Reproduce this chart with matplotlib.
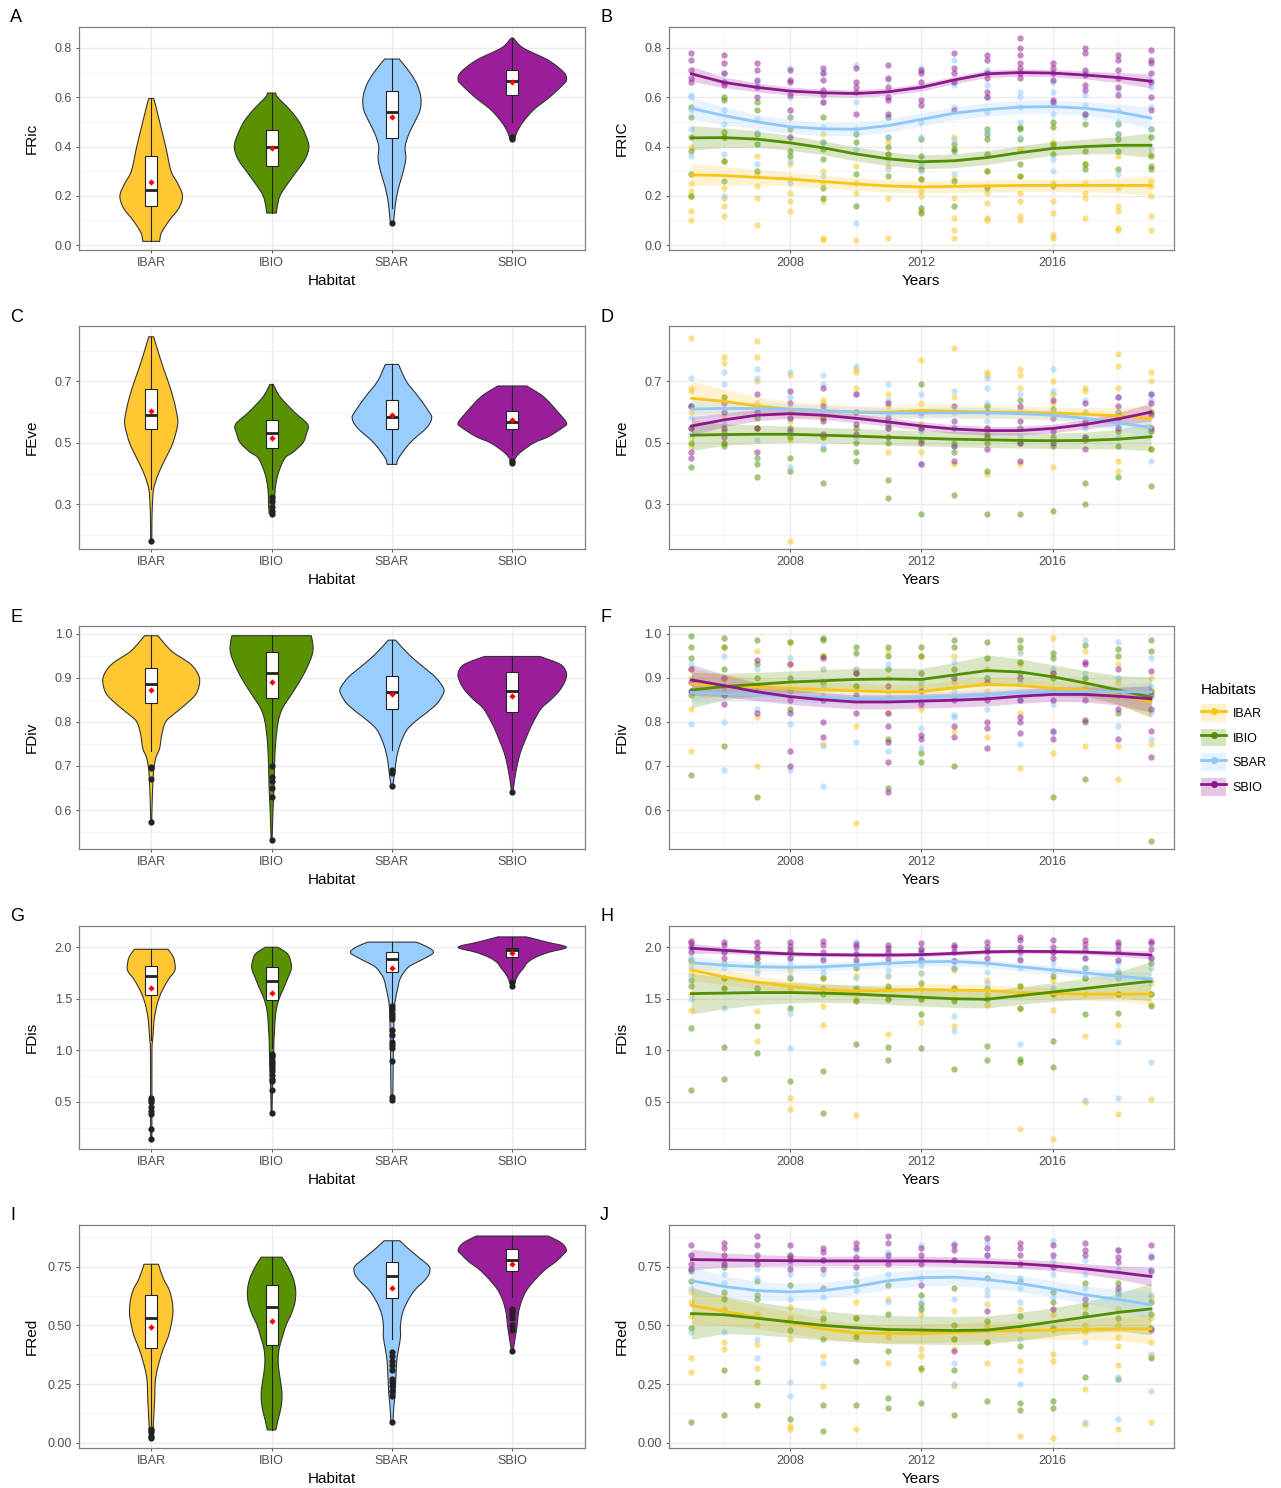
import numpy as np
import matplotlib
matplotlib.use("Agg")
import matplotlib.pyplot as plt
from matplotlib.path import Path
from matplotlib.patches import PathPatch, Rectangle, Patch
from matplotlib.lines import Line2D

plt.rcParams["font.family"] = ["Liberation Sans", "DejaVu Sans"]

habitats = ["IBAR", "IBIO", "SBAR", "SBIO"]
years = list(range(2005, 2020))
fill_cols = ["#FFC833", "#5A9100", "#99CCFF", "#9A1E9A"]
line_cols = ["#F5C518", "#4F8F00", "#8EC8FA", "#8E178E"]

########################### violin data (left column) ##############################
# each shape: (y knots, half width in category units)

# FRic
fric_shape_ibar = ([0.015, 0.05, 0.10, 0.15, 0.20, 0.25, 0.30, 0.40, 0.50, 0.57, 0.595],
                   [0.07, 0.085, 0.15, 0.23, 0.26, 0.22, 0.165, 0.12, 0.07, 0.035, 0.02])
fric_shape_ibio = ([0.13, 0.15, 0.20, 0.25, 0.30, 0.35, 0.40, 0.45, 0.50, 0.55, 0.60, 0.617],
                   [0.04, 0.045, 0.07, 0.135, 0.21, 0.28, 0.31, 0.28, 0.23, 0.15, 0.05, 0.035])
fric_shape_sbar = ([0.09, 0.10, 0.15, 0.20, 0.25, 0.30, 0.35, 0.40, 0.45, 0.50, 0.55, 0.60, 0.65, 0.70, 0.755],
                   [0.01, 0.015, 0.025, 0.04, 0.065, 0.095, 0.115, 0.11, 0.14, 0.19, 0.235, 0.24, 0.21, 0.15, 0.06])
fric_shape_sbio = ([0.43, 0.46, 0.50, 0.55, 0.60, 0.65, 0.67, 0.70, 0.75, 0.80, 0.84],
                   [0.02, 0.04, 0.09, 0.18, 0.31, 0.42, 0.45, 0.43, 0.30, 0.09, 0.01])
fric_q1 = [0.16, 0.32, 0.435, 0.61]
fric_med = [0.225, 0.40, 0.54, 0.665]
fric_q3 = [0.36, 0.465, 0.625, 0.71]
fric_mean = [0.255, 0.392, 0.52, 0.66]
fric_wlo = [0.015, 0.13, 0.15, 0.50]
fric_whi = [0.595, 0.617, 0.755, 0.84]
fric_out = [[], [], [0.09], [0.44, 0.43]]

# FEve
feve_shape_ibar = ([0.18, 0.25, 0.30, 0.35, 0.40, 0.45, 0.50, 0.56, 0.60, 0.65, 0.70, 0.75, 0.80, 0.845],
                   [0.005, 0.006, 0.01, 0.02, 0.06, 0.12, 0.18, 0.22, 0.21, 0.18, 0.14, 0.095, 0.055, 0.02])
feve_shape_ibio = ([0.27, 0.30, 0.35, 0.40, 0.45, 0.47, 0.50, 0.53, 0.56, 0.60, 0.65, 0.69],
                   [0.02, 0.025, 0.03, 0.055, 0.11, 0.18, 0.26, 0.29, 0.30, 0.19, 0.07, 0.015])
feve_shape_sbar = ([0.43, 0.45, 0.50, 0.55, 0.58, 0.60, 0.65, 0.70, 0.755],
                   [0.04, 0.055, 0.15, 0.29, 0.33, 0.31, 0.22, 0.12, 0.055])
feve_shape_sbio = ([0.435, 0.45, 0.47, 0.50, 0.52, 0.55, 0.565, 0.60, 0.65, 0.685],
                   [0.015, 0.025, 0.07, 0.18, 0.30, 0.42, 0.45, 0.38, 0.26, 0.12])
feve_q1 = [0.545, 0.483, 0.545, 0.545]
feve_med = [0.59, 0.533, 0.585, 0.568]
feve_q3 = [0.675, 0.575, 0.64, 0.605]
feve_mean = [0.605, 0.517, 0.592, 0.574]
feve_wlo = [0.35, 0.35, 0.43, 0.46]
feve_whi = [0.845, 0.69, 0.755, 0.685]
feve_out = [[0.18], [0.27, 0.28, 0.29, 0.31, 0.325], [], [0.44, 0.435]]

# FDiv
fdiv_shape_ibar = ([0.573, 0.60, 0.67, 0.70, 0.72, 0.74, 0.77, 0.80, 0.82, 0.85, 0.87, 0.90, 0.93, 0.96, 0.995],
                   [0.005, 0.006, 0.015, 0.025, 0.04, 0.07, 0.087, 0.12, 0.2, 0.33, 0.385, 0.40, 0.33, 0.17, 0.055])
fdiv_shape_ibio = ([0.533, 0.55, 0.60, 0.65, 0.70, 0.75, 0.80, 0.83, 0.86, 0.89, 0.92, 0.95, 0.97, 0.995],
                   [0.004, 0.006, 0.012, 0.02, 0.025, 0.033, 0.055, 0.09, 0.16, 0.23, 0.29, 0.335, 0.345, 0.33])
fdiv_shape_sbar = ([0.655, 0.67, 0.69, 0.72, 0.75, 0.78, 0.80, 0.82, 0.84, 0.86, 0.875, 0.90, 0.92, 0.95, 0.985],
                   [0.008, 0.015, 0.025, 0.04, 0.07, 0.12, 0.19, 0.285, 0.37, 0.42, 0.43, 0.365, 0.28, 0.15, 0.03])
fdiv_shape_sbio = ([0.642, 0.65, 0.67, 0.70, 0.73, 0.76, 0.78, 0.80, 0.83, 0.85, 0.87, 0.89, 0.91, 0.93, 0.948],
                   [0.005, 0.01, 0.02, 0.04, 0.067, 0.11, 0.14, 0.175, 0.24, 0.32, 0.39, 0.435, 0.45, 0.40, 0.23])
fdiv_q1 = [0.843, 0.855, 0.828, 0.823]
fdiv_med = [0.885, 0.91, 0.868, 0.87]
fdiv_q3 = [0.922, 0.958, 0.903, 0.912]
fdiv_mean = [0.872, 0.891, 0.862, 0.858]
fdiv_wlo = [0.733, 0.706, 0.737, 0.69]
fdiv_whi = [0.995, 0.995, 0.985, 0.948]
fdiv_out = [[0.573, 0.67, 0.695, 0.698], [0.533, 0.63, 0.65, 0.665, 0.675, 0.70],
            [0.655, 0.685, 0.69], [0.642]]

# FDis
fdis_shape_ibar = ([0.14, 0.5, 1.0, 1.1, 1.2, 1.3, 1.4, 1.5, 1.6, 1.7, 1.75, 1.8, 1.9, 1.98],
                   [0.005, 0.006, 0.006, 0.012, 0.018, 0.025, 0.04, 0.063, 0.1, 0.15, 0.185, 0.2, 0.185, 0.14])
fdis_shape_ibio = ([0.39, 0.5, 0.7, 0.8, 0.9, 1.0, 1.1, 1.2, 1.3, 1.4, 1.5, 1.6, 1.7, 1.8, 1.9, 1.95, 2.0],
                   [0.004, 0.005, 0.01, 0.012, 0.015, 0.018, 0.02, 0.025, 0.03, 0.04, 0.063, 0.1, 0.135, 0.165,
                    0.15, 0.12, 0.05])
fdis_shape_sbar = ([0.52, 0.6, 0.8, 1.0, 1.2, 1.4, 1.5, 1.6, 1.7, 1.8, 1.85, 1.9, 1.95, 2.0, 2.05],
                   [0.006, 0.008, 0.01, 0.012, 0.015, 0.02, 0.03, 0.048, 0.07, 0.13, 0.2, 0.285, 0.345, 0.30, 0.2])
fdis_shape_sbio = ([1.62, 1.65, 1.7, 1.75, 1.8, 1.85, 1.9, 1.95, 2.0, 2.05, 2.1],
                   [0.01, 0.02, 0.035, 0.06, 0.095, 0.125, 0.19, 0.30, 0.45, 0.285, 0.12])
fdis_q1 = [1.535, 1.49, 1.76, 1.905]
fdis_med = [1.725, 1.675, 1.89, 1.975]
fdis_q3 = [1.82, 1.805, 1.95, 1.99]
fdis_mean = [1.60, 1.56, 1.80, 1.945]
fdis_wlo = [1.10, 1.02, 1.46, 1.70]
fdis_whi = [1.98, 2.0, 2.05, 2.10]
fdis_out = [[0.14, 0.24, 0.38, 0.41, 0.45, 0.50, 0.52, 0.54],
            [0.39, 0.61, 0.70, 0.72, 0.76, 0.80, 0.83, 0.86, 0.88, 0.90, 0.93, 0.95, 0.96],
            [0.52, 0.55, 0.90, 1.02, 1.05, 1.08, 1.15, 1.20, 1.30, 1.33, 1.36, 1.40, 1.43],
            [1.62, 1.66]]

# FRed
fred_shape_ibar = ([0.02, 0.05, 0.10, 0.15, 0.20, 0.25, 0.30, 0.35, 0.40, 0.45, 0.50, 0.55, 0.60, 0.65, 0.70, 0.76],
                   [0.015, 0.015, 0.02, 0.025, 0.03, 0.032, 0.045, 0.07, 0.10, 0.14, 0.165, 0.18, 0.175, 0.15,
                    0.10, 0.06])
fred_shape_ibio = ([0.055, 0.10, 0.15, 0.20, 0.25, 0.30, 0.35, 0.40, 0.45, 0.50, 0.55, 0.60, 0.65, 0.70, 0.75, 0.79],
                   [0.035, 0.055, 0.078, 0.087, 0.078, 0.063, 0.055, 0.063, 0.09, 0.12, 0.165, 0.195, 0.20, 0.18,
                    0.135, 0.087])
fred_shape_sbar = ([0.09, 0.10, 0.15, 0.20, 0.25, 0.30, 0.35, 0.40, 0.45, 0.50, 0.55, 0.60, 0.65, 0.69, 0.72, 0.75,
                    0.78, 0.82, 0.86],
                   [0.008, 0.01, 0.015, 0.025, 0.03, 0.035, 0.04, 0.055, 0.071, 0.071, 0.087, 0.127, 0.19, 0.27,
                    0.31, 0.31, 0.245, 0.15, 0.065])
fred_shape_sbio = ([0.39, 0.40, 0.45, 0.50, 0.55, 0.60, 0.65, 0.70, 0.74, 0.77, 0.80, 0.82, 0.85, 0.88],
                   [0.008, 0.01, 0.025, 0.04, 0.05, 0.075, 0.12, 0.20, 0.28, 0.36, 0.42, 0.45, 0.41, 0.30])
fred_q1 = [0.405, 0.415, 0.615, 0.73]
fred_med = [0.53, 0.58, 0.71, 0.78]
fred_q3 = [0.63, 0.67, 0.77, 0.825]
fred_mean = [0.495, 0.52, 0.66, 0.76]
fred_wlo = [0.075, 0.055, 0.44, 0.62]
fred_whi = [0.76, 0.79, 0.86, 0.88]
fred_out = [[0.02, 0.03, 0.045, 0.055, 0.06], [],
            [0.09, 0.20, 0.22, 0.24, 0.26, 0.27, 0.31, 0.33, 0.35, 0.37, 0.385],
            [0.39, 0.48, 0.50, 0.53, 0.55, 0.56, 0.57]]

########################### yearly data (right column) ##############################

# FRIC
fric_pts_ibar = [[0.40, 0.25, 0.22, 0.20, 0.14, 0.10], [0.44, 0.34, 0.23, 0.19, 0.16, 0.12],
                 [0.36, 0.29, 0.24, 0.19, 0.08], [0.33, 0.27, 0.21, 0.18, 0.14],
                 [0.45, 0.30, 0.25, 0.18, 0.03, 0.02], [0.32, 0.25, 0.21, 0.02],
                 [0.42, 0.37, 0.32, 0.19, 0.03], [0.31, 0.27, 0.22, 0.20, 0.14],
                 [0.44, 0.27, 0.19, 0.11, 0.06, 0.03], [0.30, 0.24, 0.21, 0.17, 0.11, 0.10],
                 [0.39, 0.28, 0.21, 0.18, 0.12, 0.10], [0.42, 0.40, 0.25, 0.18, 0.13, 0.04, 0.03],
                 [0.33, 0.25, 0.21, 0.19, 0.11], [0.36, 0.23, 0.16, 0.14, 0.07, 0.06],
                 [0.37, 0.26, 0.24, 0.20, 0.12, 0.06]]
fric_pts_ibio = [[0.56, 0.52, 0.44, 0.38, 0.29, 0.20], [0.60, 0.59, 0.46, 0.44, 0.34, 0.26],
                 [0.58, 0.55, 0.45, 0.41, 0.30], [0.52, 0.47, 0.38, 0.36],
                 [0.52, 0.42, 0.39, 0.35, 0.23, 0.19], [0.45, 0.42, 0.29, 0.16],
                 [0.52, 0.44, 0.40, 0.37, 0.28], [0.43, 0.36, 0.31, 0.27, 0.15, 0.13],
                 [0.41, 0.39, 0.38, 0.26, 0.16], [0.47, 0.45, 0.43, 0.37, 0.30, 0.23],
                 [0.48, 0.47, 0.43, 0.33, 0.28], [0.50, 0.48, 0.41, 0.37, 0.24],
                 [0.53, 0.49, 0.38, 0.33, 0.31], [0.49, 0.45, 0.43, 0.38, 0.31],
                 [0.47, 0.44, 0.36, 0.32, 0.31]]
fric_pts_sbar = [[0.61, 0.60, 0.55, 0.47, 0.36], [0.70, 0.55, 0.49, 0.37, 0.20],
                 [0.66, 0.51, 0.46, 0.33], [0.72, 0.60, 0.52, 0.34, 0.25],
                 [0.70, 0.58, 0.48, 0.42, 0.28], [0.73, 0.58, 0.47, 0.39, 0.09],
                 [0.67, 0.52, 0.44, 0.35, 0.31], [0.72, 0.50, 0.44, 0.33, 0.30],
                 [0.75, 0.65, 0.56, 0.43, 0.29], [0.71, 0.65, 0.60, 0.54, 0.46],
                 [0.62, 0.60, 0.56, 0.50, 0.44], [0.66, 0.62, 0.57, 0.53, 0.35, 0.30],
                 [0.70, 0.61, 0.57, 0.52], [0.63, 0.55, 0.50, 0.45, 0.29],
                 [0.67, 0.64, 0.56, 0.47, 0.39]]
fric_pts_sbio = [[0.78, 0.75, 0.71, 0.68, 0.66], [0.77, 0.74, 0.70, 0.66, 0.65],
                 [0.74, 0.71, 0.67, 0.64, 0.60], [0.71, 0.67, 0.66, 0.61, 0.55, 0.44],
                 [0.72, 0.70, 0.67, 0.63, 0.61, 0.58], [0.72, 0.66, 0.64, 0.62, 0.53],
                 [0.73, 0.68, 0.64, 0.60, 0.59, 0.53], [0.71, 0.70, 0.66, 0.59, 0.57],
                 [0.78, 0.72, 0.70, 0.66, 0.55], [0.77, 0.75, 0.70, 0.68, 0.62, 0.60],
                 [0.84, 0.80, 0.77, 0.74, 0.72, 0.70, 0.68], [0.74, 0.72, 0.70, 0.67, 0.59, 0.58],
                 [0.80, 0.78, 0.71, 0.69, 0.65, 0.63, 0.53], [0.77, 0.75, 0.71, 0.68, 0.64, 0.61],
                 [0.79, 0.75, 0.74, 0.70, 0.66, 0.60, 0.55]]
fric_fit_ibar = [0.285, 0.282, 0.275, 0.268, 0.258, 0.248, 0.24, 0.236, 0.238, 0.24, 0.242, 0.242, 0.242, 0.242, 0.242]
fric_fit_ibio = [0.435, 0.436, 0.43, 0.415, 0.395, 0.37, 0.35, 0.338, 0.342, 0.355, 0.375, 0.392, 0.40, 0.405, 0.405]
fric_fit_sbar = [0.555, 0.525, 0.50, 0.48, 0.472, 0.47, 0.485, 0.51, 0.535, 0.55, 0.56, 0.562, 0.555, 0.54, 0.515]
fric_fit_sbio = [0.695, 0.66, 0.64, 0.625, 0.618, 0.615, 0.622, 0.64, 0.67, 0.695, 0.70, 0.698, 0.69, 0.68, 0.665]
fric_se_ibar = [0.045, 0.038, 0.032, 0.028, 0.026, 0.025, 0.025, 0.025, 0.025, 0.025, 0.025, 0.025, 0.026, 0.03, 0.04]
fric_se_ibio = [0.05, 0.04, 0.033, 0.03, 0.028, 0.028, 0.028, 0.028, 0.028, 0.028, 0.028, 0.028, 0.03, 0.035, 0.05]
fric_se_sbar = [0.045, 0.035, 0.03, 0.028, 0.027, 0.027, 0.027, 0.027, 0.027, 0.027, 0.027, 0.027, 0.028, 0.033, 0.045]
fric_se_sbio = [0.03, 0.022, 0.018, 0.016, 0.015, 0.015, 0.015, 0.015, 0.015, 0.015, 0.015, 0.015, 0.016, 0.02, 0.028]

# FEve
feve_pts_ibar = [[0.84, 0.68, 0.67, 0.60, 0.52, 0.49], [0.78, 0.76, 0.65, 0.59, 0.50],
                 [0.83, 0.78, 0.70, 0.63, 0.55], [0.72, 0.60, 0.57, 0.51, 0.18],
                 [0.64, 0.63, 0.58, 0.52], [0.74, 0.73, 0.68, 0.60], [0.66, 0.62, 0.55, 0.47],
                 [0.77, 0.63, 0.56, 0.47], [0.81, 0.65, 0.60, 0.43], [0.73, 0.72, 0.62, 0.55, 0.40],
                 [0.74, 0.72, 0.68, 0.55, 0.43], [0.70, 0.66, 0.63, 0.42], [0.68, 0.67, 0.60, 0.52],
                 [0.79, 0.75, 0.68, 0.59, 0.44, 0.41], [0.73, 0.70, 0.60, 0.54, 0.48]]
feve_pts_ibio = [[0.62, 0.55, 0.50, 0.42], [0.65, 0.54, 0.50, 0.49], [0.58, 0.55, 0.45, 0.43, 0.39],
                 [0.55, 0.52, 0.45, 0.41], [0.58, 0.52, 0.48, 0.37], [0.55, 0.50, 0.47, 0.44],
                 [0.56, 0.50, 0.38, 0.32], [0.69, 0.55, 0.51, 0.27], [0.55, 0.50, 0.47, 0.33],
                 [0.62, 0.53, 0.50, 0.41, 0.27], [0.64, 0.55, 0.50, 0.27], [0.61, 0.52, 0.49, 0.28],
                 [0.56, 0.51, 0.37, 0.30], [0.60, 0.54, 0.49, 0.39], [0.60, 0.54, 0.48, 0.36]]
feve_pts_sbar = [[0.71, 0.62, 0.58, 0.53], [0.73, 0.69, 0.60, 0.56], [0.74, 0.71, 0.61, 0.51],
                 [0.73, 0.65, 0.58, 0.42], [0.72, 0.69, 0.61, 0.49], [0.75, 0.66, 0.60, 0.52],
                 [0.69, 0.64, 0.59, 0.55], [0.66, 0.59, 0.54, 0.43], [0.67, 0.60, 0.55, 0.49],
                 [0.71, 0.68, 0.63, 0.57], [0.66, 0.61, 0.55, 0.52], [0.74, 0.67, 0.60, 0.51],
                 [0.64, 0.60, 0.55, 0.52], [0.65, 0.60, 0.56, 0.52], [0.66, 0.64, 0.55, 0.44]]
feve_pts_sbio = [[0.62, 0.55, 0.47, 0.45], [0.63, 0.60, 0.55, 0.52], [0.66, 0.60, 0.55, 0.47],
                 [0.67, 0.63, 0.58, 0.54], [0.68, 0.62, 0.57, 0.53], [0.66, 0.60, 0.56, 0.53],
                 [0.63, 0.58, 0.55, 0.52], [0.60, 0.55, 0.50, 0.43], [0.62, 0.57, 0.49, 0.44],
                 [0.60, 0.55, 0.52, 0.48], [0.62, 0.57, 0.50, 0.44], [0.64, 0.58, 0.54, 0.50],
                 [0.63, 0.57, 0.52, 0.48], [0.65, 0.62, 0.58, 0.55], [0.66, 0.63, 0.59, 0.55]]
feve_fit_ibar = [0.645, 0.635, 0.62, 0.61, 0.605, 0.60, 0.60, 0.605, 0.603, 0.60, 0.60, 0.597, 0.593, 0.588, 0.58]
feve_fit_ibio = [0.525, 0.527, 0.528, 0.528, 0.525, 0.522, 0.518, 0.515, 0.512, 0.51, 0.508, 0.507, 0.508, 0.512, 0.52]
feve_fit_sbar = [0.61, 0.612, 0.612, 0.61, 0.605, 0.60, 0.597, 0.597, 0.598, 0.598, 0.595, 0.59, 0.58, 0.565, 0.55]
feve_fit_sbio = [0.555, 0.575, 0.59, 0.595, 0.59, 0.58, 0.568, 0.555, 0.545, 0.54, 0.54, 0.547, 0.56, 0.578, 0.60]
feve_se_ibar = [0.055, 0.04, 0.03, 0.025, 0.022, 0.02, 0.02, 0.02, 0.02, 0.02, 0.02, 0.02, 0.022, 0.028, 0.04]
feve_se_ibio = [0.05, 0.035, 0.03, 0.026, 0.025, 0.025, 0.025, 0.025, 0.025, 0.025, 0.025, 0.025, 0.027, 0.032, 0.045]
feve_se_sbar = [0.035, 0.025, 0.02, 0.018, 0.017, 0.017, 0.017, 0.017, 0.017, 0.017, 0.017, 0.017, 0.018, 0.022, 0.035]
feve_se_sbio = [0.03, 0.022, 0.018, 0.015, 0.014, 0.014, 0.014, 0.014, 0.014, 0.014, 0.014, 0.014, 0.015, 0.02, 0.03]

# FDiv
fdiv_pts_ibar = [[0.92, 0.90, 0.83, 0.735], [0.97, 0.90, 0.86], [0.96, 0.88, 0.81, 0.70], [0.98, 0.93, 0.87],
                 [0.95, 0.92, 0.86, 0.75], [0.92, 0.88, 0.79, 0.57], [0.96, 0.90, 0.82], [0.95, 0.88, 0.83],
                 [0.95, 0.89, 0.78], [0.92, 0.87, 0.765], [0.96, 0.93, 0.82, 0.695], [0.99, 0.91, 0.87, 0.73],
                 [0.96, 0.88, 0.745], [0.93, 0.89, 0.745, 0.67], [0.90, 0.87, 0.75]]
fdiv_pts_ibio = [[0.995, 0.97, 0.945, 0.86, 0.68], [0.99, 0.97, 0.92, 0.88, 0.745], [0.985, 0.93, 0.90, 0.63],
                 [0.98, 0.90, 0.83], [0.99, 0.985, 0.95, 0.89], [0.97, 0.955, 0.91, 0.88],
                 [0.97, 0.95, 0.92, 0.76, 0.65], [0.97, 0.95, 0.91, 0.73, 0.71], [0.985, 0.97, 0.92, 0.70],
                 [0.98, 0.945, 0.90], [0.985, 0.97, 0.935, 0.91], [0.955, 0.945, 0.90, 0.63],
                 [0.975, 0.90, 0.80, 0.67], [0.965, 0.95, 0.82], [0.985, 0.96, 0.87, 0.53]]
fdiv_pts_sbar = [[0.93, 0.87, 0.795], [0.95, 0.87, 0.80, 0.69], [0.92, 0.87, 0.83], [0.945, 0.87, 0.795, 0.69],
                 [0.92, 0.88, 0.745, 0.655], [0.92, 0.86, 0.755], [0.93, 0.86, 0.735], [0.89, 0.85, 0.785, 0.74],
                 [0.935, 0.87, 0.815, 0.81], [0.90, 0.86, 0.83], [0.955, 0.89, 0.85, 0.75],
                 [0.92, 0.87, 0.84, 0.775], [0.985, 0.91, 0.86], [0.98, 0.90, 0.86, 0.79],
                 [0.945, 0.88, 0.82, 0.76]]
fdiv_pts_sbio = [[0.92, 0.89, 0.87], [0.90, 0.86, 0.84], [0.94, 0.88, 0.82], [0.93, 0.85, 0.82, 0.735, 0.70],
                 [0.945, 0.85, 0.80, 0.765], [0.91, 0.86, 0.82], [0.88, 0.82, 0.79, 0.755, 0.71, 0.64],
                 [0.87, 0.84, 0.77, 0.76], [0.90, 0.85, 0.79, 0.765], [0.89, 0.85, 0.80, 0.785, 0.74],
                 [0.90, 0.85, 0.81, 0.80, 0.775], [0.91, 0.85, 0.78, 0.76], [0.935, 0.93, 0.85, 0.805],
                 [0.92, 0.86, 0.83, 0.76], [0.915, 0.86, 0.83, 0.78, 0.72]]
fdiv_fit_ibar = [0.885, 0.882, 0.878, 0.876, 0.873, 0.87, 0.868, 0.868, 0.877, 0.885, 0.882, 0.876, 0.872, 0.86, 0.845]
fdiv_fit_ibio = [0.872, 0.88, 0.885, 0.89, 0.893, 0.896, 0.897, 0.896, 0.906, 0.916, 0.913, 0.902, 0.888, 0.872, 0.856]
fdiv_fit_sbar = [0.866, 0.864, 0.862, 0.858, 0.855, 0.853, 0.853, 0.855, 0.858, 0.862, 0.866, 0.868, 0.868, 0.868, 0.868]
fdiv_fit_sbio = [0.895, 0.882, 0.868, 0.857, 0.85, 0.845, 0.845, 0.847, 0.849, 0.852, 0.858, 0.862, 0.862, 0.858, 0.852]
fdiv_se_ibar = [0.035, 0.025, 0.02, 0.018, 0.017, 0.017, 0.017, 0.017, 0.017, 0.017, 0.017, 0.017, 0.018, 0.022, 0.035]
fdiv_se_ibio = [0.04, 0.03, 0.027, 0.025, 0.025, 0.025, 0.025, 0.025, 0.028, 0.035, 0.03, 0.027, 0.028, 0.033, 0.045]
fdiv_se_sbar = [0.025, 0.018, 0.015, 0.013, 0.012, 0.012, 0.012, 0.012, 0.012, 0.012, 0.012, 0.012, 0.013, 0.016, 0.025]
fdiv_se_sbio = [0.035, 0.025, 0.02, 0.017, 0.016, 0.016, 0.016, 0.016, 0.016, 0.016, 0.016, 0.016, 0.017, 0.02, 0.03]

# FDis
fdis_pts_ibar = [[1.85, 1.75, 1.55, 1.39], [1.85, 1.70, 1.60], [1.90, 1.78, 1.60, 1.38, 1.09],
                 [1.78, 1.70, 1.60, 0.54, 0.43], [1.70, 1.60, 1.43, 1.25], [1.72, 1.58, 1.50, 0.37],
                 [1.72, 1.60, 1.50, 1.16], [1.75, 1.60, 1.50, 1.27], [1.78, 1.60, 1.50, 1.24],
                 [1.68, 1.55, 1.44], [1.62, 1.55, 1.40, 0.24], [1.68, 1.55, 1.39, 0.14],
                 [1.70, 1.55, 1.14, 0.50], [1.70, 1.55, 1.25, 0.38], [1.65, 1.55, 1.45, 0.53]]
fdis_pts_ibio = [[1.88, 1.68, 1.62, 1.22, 0.61], [1.70, 1.60, 1.03, 0.72], [1.85, 1.60, 1.24, 0.97],
                 [1.95, 1.70, 1.41, 0.70], [1.70, 1.55, 0.80, 0.39], [1.80, 1.60, 1.48, 1.06],
                 [1.62, 1.50, 1.03, 0.91], [1.65, 1.50, 1.35, 1.02], [1.80, 1.60, 1.48, 0.82],
                 [1.60, 1.50, 1.04, 0.91], [1.62, 1.41, 0.92, 0.89], [1.72, 1.55, 1.09, 0.84],
                 [1.80, 1.70, 1.35], [1.75, 1.55, 1.36], [1.85, 1.55, 1.43]]
fdis_pts_sbar = [[1.98, 1.90, 1.80, 1.72, 1.50], [1.95, 1.85, 1.80, 1.41], [1.95, 1.86, 1.75, 1.60],
                 [1.90, 1.85, 1.72, 1.36, 1.02], [1.90, 1.80, 1.75, 1.60], [2.05, 1.95, 1.85, 1.70],
                 [1.95, 1.85, 1.78, 1.72], [1.98, 1.90, 1.83, 1.75], [1.95, 1.88, 1.80, 1.33, 1.19],
                 [1.95, 1.85, 1.76, 1.65], [1.98, 1.90, 1.80, 1.06], [1.95, 1.85, 1.78, 1.60],
                 [1.90, 1.80, 1.72, 0.52], [1.85, 1.78, 1.70, 1.08, 0.54], [1.90, 1.80, 1.68, 0.89]]
fdis_pts_sbio = [[2.06, 2.04, 2.00, 1.95], [2.05, 2.02, 1.95, 1.90], [2.05, 2.00, 1.93, 1.90],
                 [2.05, 2.01, 1.97, 1.90], [2.06, 2.02, 1.95, 1.88], [2.03, 2.00, 1.93, 1.88],
                 [2.02, 1.99, 1.95, 1.89], [2.04, 1.98, 1.95, 1.88], [2.02, 2.00, 1.95, 1.87],
                 [2.05, 2.00, 1.96, 1.90], [2.10, 2.07, 2.00, 1.95, 1.88], [2.07, 2.00, 1.95, 1.90],
                 [2.07, 2.03, 1.98, 1.90], [2.05, 2.02, 1.97, 1.88], [2.06, 2.04, 1.98, 1.90]]
fdis_fit_ibar = [1.78, 1.71, 1.66, 1.62, 1.59, 1.575, 1.58, 1.59, 1.585, 1.58, 1.56, 1.55, 1.545, 1.545, 1.545]
fdis_fit_ibio = [1.55, 1.555, 1.56, 1.56, 1.555, 1.545, 1.53, 1.515, 1.50, 1.495, 1.53, 1.565, 1.60, 1.635, 1.67]
fdis_fit_sbar = [1.85, 1.825, 1.81, 1.805, 1.81, 1.825, 1.845, 1.858, 1.862, 1.845, 1.81, 1.78, 1.75, 1.72, 1.69]
fdis_fit_sbio = [1.99, 1.97, 1.95, 1.935, 1.928, 1.925, 1.924, 1.928, 1.94, 1.955, 1.96, 1.958, 1.952, 1.94, 1.925]
fdis_se_ibar = [0.1, 0.075, 0.065, 0.06, 0.058, 0.058, 0.058, 0.058, 0.058, 0.058, 0.058, 0.058, 0.06, 0.07, 0.1]
fdis_se_ibio = [0.2, 0.15, 0.12, 0.1, 0.09, 0.085, 0.085, 0.085, 0.085, 0.085, 0.085, 0.09, 0.1, 0.13, 0.19]
fdis_se_sbar = [0.07, 0.05, 0.045, 0.04, 0.04, 0.04, 0.04, 0.04, 0.04, 0.04, 0.04, 0.04, 0.042, 0.05, 0.07]
fdis_se_sbio = [0.05, 0.03, 0.025, 0.022, 0.02, 0.02, 0.02, 0.02, 0.02, 0.02, 0.02, 0.02, 0.022, 0.028, 0.04]

# FRed
fred_pts_ibar = [[0.64, 0.60, 0.54, 0.36, 0.30], [0.63, 0.57, 0.43, 0.40], [0.55, 0.50, 0.42, 0.32],
                 [0.58, 0.53, 0.44, 0.07, 0.06], [0.56, 0.52, 0.37, 0.24], [0.60, 0.53, 0.46, 0.06],
                 [0.61, 0.48, 0.45, 0.34], [0.55, 0.48, 0.40, 0.37, 0.31], [0.56, 0.44, 0.40, 0.24],
                 [0.59, 0.50, 0.43, 0.34], [0.57, 0.48, 0.35, 0.31, 0.03], [0.55, 0.48, 0.38, 0.35, 0.02],
                 [0.58, 0.50, 0.47, 0.23, 0.08], [0.57, 0.50, 0.45, 0.41, 0.33, 0.06],
                 [0.62, 0.53, 0.43, 0.37, 0.09]]
fred_pts_ibio = [[0.73, 0.69, 0.49, 0.09], [0.75, 0.64, 0.61, 0.31, 0.12], [0.69, 0.63, 0.61, 0.26, 0.16],
                 [0.79, 0.67, 0.48, 0.10], [0.66, 0.53, 0.44, 0.16, 0.05], [0.69, 0.53, 0.45, 0.35, 0.16],
                 [0.67, 0.55, 0.39, 0.19, 0.15], [0.63, 0.59, 0.57, 0.32, 0.17], [0.66, 0.50, 0.44, 0.31, 0.12],
                 [0.70, 0.52, 0.43, 0.18], [0.69, 0.54, 0.41, 0.17, 0.14], [0.64, 0.60, 0.49, 0.18, 0.15],
                 [0.68, 0.59, 0.55, 0.28], [0.68, 0.64, 0.53, 0.27], [0.60, 0.55, 0.49, 0.36]]
fred_pts_sbar = [[0.80, 0.74, 0.66, 0.47], [0.76, 0.72, 0.68, 0.47], [0.78, 0.74, 0.70, 0.44, 0.36],
                 [0.76, 0.72, 0.61, 0.26, 0.20], [0.78, 0.72, 0.62, 0.34], [0.82, 0.72, 0.65],
                 [0.81, 0.78, 0.72, 0.60], [0.84, 0.78, 0.70, 0.60], [0.85, 0.78, 0.61, 0.34, 0.25],
                 [0.85, 0.80, 0.65, 0.63], [0.70, 0.66, 0.60, 0.44, 0.25], [0.86, 0.78, 0.72, 0.62],
                 [0.78, 0.72, 0.66, 0.43, 0.09], [0.82, 0.74, 0.63, 0.28, 0.10], [0.80, 0.74, 0.63, 0.38, 0.22]]
fred_pts_sbio = [[0.84, 0.80, 0.76, 0.74], [0.85, 0.83, 0.80, 0.76], [0.88, 0.84, 0.80, 0.76],
                 [0.84, 0.80, 0.78, 0.74], [0.83, 0.81, 0.78, 0.74], [0.85, 0.83, 0.79, 0.75],
                 [0.88, 0.85, 0.80, 0.76], [0.83, 0.80, 0.76, 0.67], [0.84, 0.82, 0.78, 0.39],
                 [0.87, 0.83, 0.80, 0.56], [0.85, 0.83, 0.80, 0.76], [0.84, 0.80, 0.75, 0.57],
                 [0.85, 0.82, 0.80, 0.61], [0.82, 0.79, 0.77, 0.66], [0.84, 0.79, 0.73, 0.48]]
fred_fit_ibar = [0.585, 0.56, 0.535, 0.51, 0.485, 0.468, 0.465, 0.465, 0.47, 0.475, 0.478, 0.48, 0.483, 0.485, 0.485]
fred_fit_ibio = [0.55, 0.545, 0.53, 0.515, 0.50, 0.49, 0.482, 0.48, 0.478, 0.48, 0.495, 0.515, 0.535, 0.555, 0.57]
fred_fit_sbar = [0.69, 0.665, 0.648, 0.642, 0.648, 0.665, 0.69, 0.703, 0.705, 0.695, 0.678, 0.655, 0.63, 0.61, 0.588]
fred_fit_sbio = [0.78, 0.778, 0.776, 0.775, 0.774, 0.774, 0.774, 0.774, 0.772, 0.768, 0.762, 0.753, 0.74, 0.725, 0.708]
fred_se_ibar = [0.08, 0.06, 0.05, 0.045, 0.042, 0.04, 0.04, 0.04, 0.04, 0.04, 0.04, 0.04, 0.042, 0.05, 0.065]
fred_se_ibio = [0.11, 0.08, 0.07, 0.065, 0.062, 0.06, 0.06, 0.06, 0.06, 0.06, 0.06, 0.06, 0.065, 0.08, 0.11]
fred_se_sbar = [0.06, 0.045, 0.04, 0.037, 0.035, 0.035, 0.035, 0.035, 0.035, 0.035, 0.035, 0.035, 0.037, 0.045, 0.06]
fred_se_sbio = [0.045, 0.03, 0.025, 0.022, 0.02, 0.02, 0.02, 0.02, 0.02, 0.02, 0.02, 0.02, 0.022, 0.028, 0.04]

########################### panel setup ##############################

panels = [
    dict(letters=("A", "B"), ylabs=("FRic", "FRIC"), ylim=(-0.02, 0.885),
         ticks=[0.0, 0.2, 0.4, 0.6, 0.8], ticklabels=["0.0", "0.2", "0.4", "0.6", "0.8"],
         minor=[0.1, 0.3, 0.5, 0.7],
         shapes=[fric_shape_ibar, fric_shape_ibio, fric_shape_sbar, fric_shape_sbio],
         q1=fric_q1, med=fric_med, q3=fric_q3, mean=fric_mean, wlo=fric_wlo, whi=fric_whi, out=fric_out,
         pts=[fric_pts_ibar, fric_pts_ibio, fric_pts_sbar, fric_pts_sbio],
         fit=[fric_fit_ibar, fric_fit_ibio, fric_fit_sbar, fric_fit_sbio],
         se=[fric_se_ibar, fric_se_ibio, fric_se_sbar, fric_se_sbio]),
    dict(letters=("C", "D"), ylabs=("FEve", "FEve"), ylim=(0.155, 0.88),
         ticks=[0.3, 0.5, 0.7], ticklabels=["0.3", "0.5", "0.7"],
         minor=[0.2, 0.4, 0.6, 0.8],
         shapes=[feve_shape_ibar, feve_shape_ibio, feve_shape_sbar, feve_shape_sbio],
         q1=feve_q1, med=feve_med, q3=feve_q3, mean=feve_mean, wlo=feve_wlo, whi=feve_whi, out=feve_out,
         pts=[feve_pts_ibar, feve_pts_ibio, feve_pts_sbar, feve_pts_sbio],
         fit=[feve_fit_ibar, feve_fit_ibio, feve_fit_sbar, feve_fit_sbio],
         se=[feve_se_ibar, feve_se_ibio, feve_se_sbar, feve_se_sbio]),
    dict(letters=("E", "F"), ylabs=("FDiv", "FDiv"), ylim=(0.512, 1.017),
         ticks=[0.6, 0.7, 0.8, 0.9, 1.0], ticklabels=["0.6", "0.7", "0.8", "0.9", "1.0"],
         minor=[0.55, 0.65, 0.75, 0.85, 0.95],
         shapes=[fdiv_shape_ibar, fdiv_shape_ibio, fdiv_shape_sbar, fdiv_shape_sbio],
         q1=fdiv_q1, med=fdiv_med, q3=fdiv_q3, mean=fdiv_mean, wlo=fdiv_wlo, whi=fdiv_whi, out=fdiv_out,
         pts=[fdiv_pts_ibar, fdiv_pts_ibio, fdiv_pts_sbar, fdiv_pts_sbio],
         fit=[fdiv_fit_ibar, fdiv_fit_ibio, fdiv_fit_sbar, fdiv_fit_sbio],
         se=[fdiv_se_ibar, fdiv_se_ibio, fdiv_se_sbar, fdiv_se_sbio]),
    dict(letters=("G", "H"), ylabs=("FDis", "FDis"), ylim=(0.042, 2.206),
         ticks=[0.5, 1.0, 1.5, 2.0], ticklabels=["0.5", "1.0", "1.5", "2.0"],
         minor=[0.25, 0.75, 1.25, 1.75],
         shapes=[fdis_shape_ibar, fdis_shape_ibio, fdis_shape_sbar, fdis_shape_sbio],
         q1=fdis_q1, med=fdis_med, q3=fdis_q3, mean=fdis_mean, wlo=fdis_wlo, whi=fdis_whi, out=fdis_out,
         pts=[fdis_pts_ibar, fdis_pts_ibio, fdis_pts_sbar, fdis_pts_sbio],
         fit=[fdis_fit_ibar, fdis_fit_ibio, fdis_fit_sbar, fdis_fit_sbio],
         se=[fdis_se_ibar, fdis_se_ibio, fdis_se_sbar, fdis_se_sbio]),
    dict(letters=("I", "J"), ylabs=("FRed", "FRed"), ylim=(-0.022, 0.927),
         ticks=[0.0, 0.25, 0.5, 0.75], ticklabels=["0.00", "0.25", "0.50", "0.75"],
         minor=[0.125, 0.375, 0.625, 0.875],
         shapes=[fred_shape_ibar, fred_shape_ibio, fred_shape_sbar, fred_shape_sbio],
         q1=fred_q1, med=fred_med, q3=fred_q3, mean=fred_mean, wlo=fred_wlo, whi=fred_whi, out=fred_out,
         pts=[fred_pts_ibar, fred_pts_ibio, fred_pts_sbar, fred_pts_sbio],
         fit=[fred_fit_ibar, fred_fit_ibio, fred_fit_sbar, fred_fit_sbio],
         se=[fred_se_ibar, fred_se_ibio, fred_se_sbar, fred_se_sbio]),
]

W, H = 1281, 1488
fig = plt.figure(figsize=(W / 100, H / 100), dpi=100)
fig.patch.set_facecolor("white")
row_tops = [27, 326, 626, 926, 1225]
AX_H, AX_W = 223, 505.5
LEFT_X, RIGHT_X = 79, 668.5


def add_ax(x, top):
    return fig.add_axes([x / W, 1 - (top + AX_H) / H, AX_W / W, AX_H / H])


def style(ax, p):
    ax.set_facecolor("white")
    for s in ax.spines.values():
        s.set_color("#7f7f7f")
        s.set_linewidth(0.9)
    ax.set_ylim(p["ylim"])
    ax.set_yticks(p["ticks"])
    ax.set_yticklabels(p["ticklabels"])
    ax.set_yticks(p["minor"], minor=True)
    ax.grid(which="major", color="#ebebeb", lw=1.0)
    ax.grid(which="minor", color="#f3f3f3", lw=0.6)
    ax.set_axisbelow(True)
    ax.tick_params(which="major", length=2.5, width=0.7, color="#555555",
                   labelcolor="#4d4d4d", labelsize=9, pad=2.5)
    ax.tick_params(which="minor", length=0)


def catmull(pts):
    pts = [np.asarray(q, float) for q in pts]
    out = []
    n = len(pts)
    for i in range(n - 1):
        p0 = pts[i - 1] if i > 0 else pts[i]
        p1, p2 = pts[i], pts[i + 1]
        p3 = pts[i + 2] if i + 2 < n else pts[i + 1]
        out += [p1 + (p2 - p0) / 6, p2 - (p3 - p1) / 6, p2]
    return out


def violin(ax, c, shape, col):
    ys, ws = shape
    right = [(c + w, y) for y, w in zip(ys, ws)]
    left = [(c - w, y) for y, w in zip(ys[::-1], ws[::-1])]
    verts = [right[0]] + catmull(right) + [left[0]] + catmull(left) + [right[0]]
    codes = ([Path.MOVETO] + [Path.CURVE4] * (3 * (len(right) - 1)) + [Path.LINETO]
             + [Path.CURVE4] * (3 * (len(left) - 1)) + [Path.CLOSEPOLY])
    ax.add_patch(PathPatch(Path(verts, codes), facecolor=col, edgecolor="#333333", lw=0.8, zorder=2))


for r, p in enumerate(panels):
    top = row_tops[r]

    # ---------------- left: violins + boxplots ----------------
    ax = add_ax(LEFT_X, top)
    style(ax, p)
    ax.set_xlim(0.4, 4.6)
    ax.set_xticks([1, 2, 3, 4])
    ax.set_xticklabels(habitats)
    ax.grid(which="major", axis="x", color="#ebebeb", lw=1.0)
    for i in range(4):
        c = i + 1
        violin(ax, c, p["shapes"][i], fill_cols[i])
        ax.plot([c, c], [p["wlo"][i], p["q1"][i]], color="#222222", lw=0.8, zorder=3)
        ax.plot([c, c], [p["q3"][i], p["whi"][i]], color="#222222", lw=0.8, zorder=3)
        ax.add_patch(Rectangle((c - 0.05, p["q1"][i]), 0.1, p["q3"][i] - p["q1"][i],
                               facecolor="white", edgecolor="#222222", lw=0.8, zorder=4))
        ax.plot([c - 0.05, c + 0.05], [p["med"][i]] * 2, color="#222222", lw=2.0,
                solid_capstyle="butt", zorder=5)
        if p["out"][i]:
            ax.plot([c] * len(p["out"][i]), p["out"][i], "o", color="#222222", ms=4.5,
                    mec="none", zorder=5)
        ax.plot([c], [p["mean"][i]], "D", color="#ff0000", ms=3.2, mec="none", zorder=6)
    ax.set_xlabel("Habitat", fontsize=11, labelpad=3.5)
    ax.set_ylabel(p["ylabs"][0], fontsize=11)
    ax.yaxis.set_label_coords(-0.080, 0.5)
    fig.text(10 / W, 1 - (top - 9) / H, p["letters"][0], fontsize=13, va="center", ha="left")

    # ---------------- right: yearly points + smooth ----------------
    ax = add_ax(RIGHT_X, top)
    style(ax, p)
    ax.set_xlim(2004.3, 2019.7)
    ax.set_xticks([2008, 2012, 2016])
    ax.set_xticklabels(["2008", "2012", "2016"])
    ax.set_xticks([2006, 2010, 2014, 2018], minor=True)
    for i in range(4):
        xs, ys = [], []
        for yr, vals in zip(years, p["pts"][i]):
            xs += [yr] * len(vals)
            ys += vals
        ax.scatter(xs, ys, s=21, color=line_cols[i], alpha=0.5, lw=0, zorder=2)
    for i in range(4):
        fit = np.array(p["fit"][i])
        se = np.array(p["se"][i])
        ax.fill_between(years, fit - se, fit + se, color=fill_cols[i], alpha=0.22, lw=0, zorder=3)
    for i in range(4):
        ax.plot(years, p["fit"][i], color=line_cols[i], lw=2.0, zorder=4)
    ax.set_xlabel("Years", fontsize=11, labelpad=3.5)
    ax.set_ylabel(p["ylabs"][1], fontsize=11)
    ax.yaxis.set_label_coords(-0.078, 0.5)
    fig.text(600 / W, 1 - (top - 9) / H, p["letters"][1], fontsize=13, va="center", ha="left")

handles = [(Patch(facecolor=fill_cols[i], alpha=0.25, edgecolor="none"),
            Line2D([], [], color=line_cols[i], lw=2.0, marker="o", ms=4)) for i in range(4)]
leg = fig.legend(handles, habitats, title="Habitats", loc="upper left",
                 bbox_to_anchor=(1190 / W, 1 - 672 / H), frameon=False, fontsize=9,
                 title_fontsize=11, handlelength=2.0, handleheight=1.8, labelspacing=0.55,
                 handletextpad=0.5, alignment="left")

fig.savefig("out.png", dpi=100, facecolor="white")
